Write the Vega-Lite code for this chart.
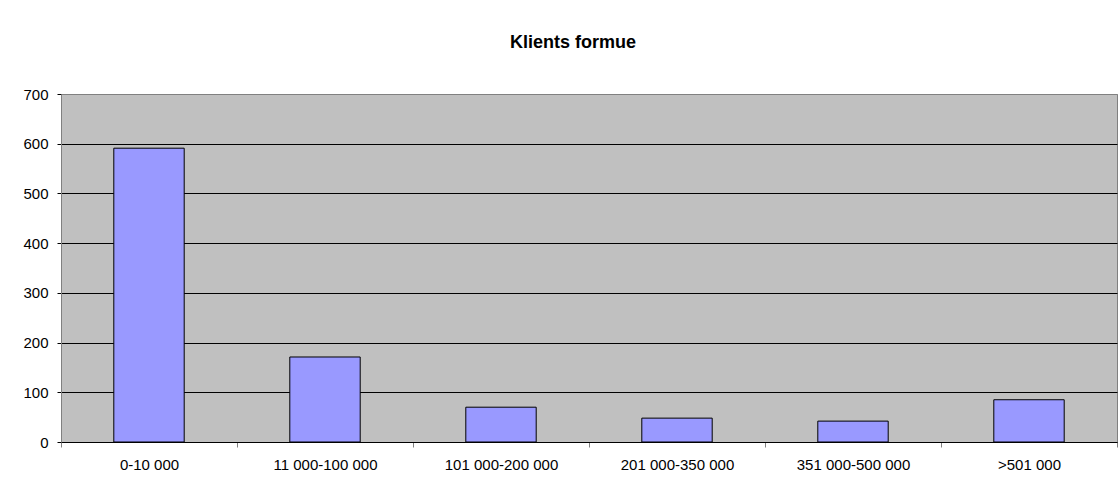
{
  "$schema": "https://vega.github.io/schema/vega-lite/v6.json",
  "autosize": {"type": "none"},
  "padding": {"left": 61, "top": 94, "right": 2, "bottom": 42},
  "width": 1056,
  "height": 348,
  "background": "white",
  "title": {
    "text": "Klients formue",
    "font": "Liberation Sans",
    "fontSize": 18,
    "fontWeight": "bold",
    "color": "black",
    "anchor": "middle",
    "frame": "group",
    "dx": -16,
    "offset": 35
  },
  "data": {
    "values": [
      {"kategori": "0-10 000", "antall": 591},
      {"kategori": "11 000-100 000", "antall": 171},
      {"kategori": "101 000-200 000", "antall": 70},
      {"kategori": "201 000-350 000", "antall": 48},
      {"kategori": "351 000-500 000", "antall": 42},
      {"kategori": ">501 000", "antall": 85}
    ]
  },
  "mark": {"type": "bar", "color": "#9999FF", "stroke": "black", "strokeWidth": 1, "width": {"band": 0.4}},
  "encoding": {
    "x": {
      "field": "kategori",
      "type": "nominal",
      "sort": null,
      "scale": {"paddingInner": 0, "paddingOuter": 0},
      "axis": {
        "title": null,
        "labelAngle": 0,
        "labelFont": "Liberation Sans",
        "labelFontSize": 15,
        "labelColor": "black",
        "tickBand": "extent",
        "tickSize": 5,
        "tickColor": "#808080",
        "domainColor": "black",
        "labelPadding": 10
      }
    },
    "y": {
      "field": "antall",
      "type": "quantitative",
      "scale": {"domain": [0, 700], "nice": false},
      "axis": {
        "title": null,
        "values": [0, 100, 200, 300, 400, 500, 600, 700],
        "labelFont": "Liberation Sans",
        "labelFontSize": 15,
        "labelColor": "black",
        "tickSize": 4,
        "tickColor": "black",
        "domainColor": "#808080",
        "labelPadding": 9,
        "grid": true,
        "gridColor": {"condition": {"test": "datum.value === 700", "value": "#808080"}, "value": "black"},
        "gridOpacity": 1,
        "gridWidth": 1
      }
    }
  },
  "config": {
    "view": {"fill": "#C0C0C0", "stroke": "#808080", "strokeWidth": 1}
  }
}
